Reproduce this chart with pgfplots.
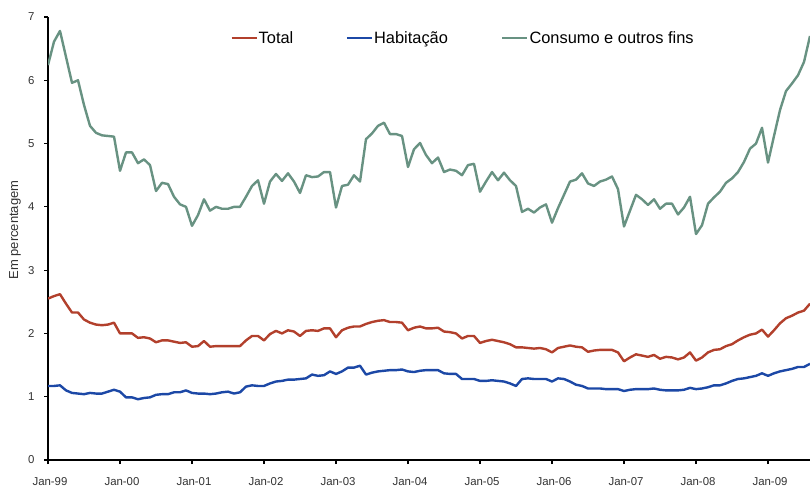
\documentclass[border=0pt]{standalone}
\usepackage{fontspec}
\setmainfont{Liberation Sans}
\usepackage{pgfplots}
\pgfplotsset{compat=1.18}
\usepackage{pgfplotstable}

\definecolor{cTotal}{RGB}{178,64,44}
\definecolor{cHab}{RGB}{28,72,166}
\definecolor{cCons}{RGB}{104,146,130}
\definecolor{ticktxt}{RGB}{50,50,50}

% Monthly rates, Jan-99 (m=0) to Aug-09 (m=127)
\pgfplotstableread{
m total hab cons
0 2.55 1.17 6.24
1 2.59 1.17 6.61
2 2.62 1.18 6.78
3 2.47 1.10 6.37
4 2.33 1.06 5.96
5 2.33 1.05 6.00
6 2.22 1.04 5.61
7 2.17 1.06 5.28
8 2.14 1.05 5.17
9 2.13 1.05 5.13
10 2.14 1.08 5.12
11 2.17 1.11 5.11
12 2.00 1.08 4.57
13 2.00 0.99 4.86
14 2.00 0.99 4.86
15 1.93 0.96 4.69
16 1.94 0.98 4.75
17 1.92 0.99 4.66
18 1.86 1.03 4.25
19 1.89 1.04 4.38
20 1.89 1.04 4.36
21 1.87 1.07 4.16
22 1.85 1.07 4.04
23 1.86 1.10 4.00
24 1.79 1.06 3.70
25 1.80 1.05 3.87
26 1.88 1.05 4.12
27 1.79 1.04 3.94
28 1.80 1.05 4.00
29 1.80 1.07 3.97
30 1.80 1.08 3.97
31 1.80 1.05 4.00
32 1.80 1.07 4.00
33 1.89 1.16 4.16
34 1.96 1.18 4.33
35 1.96 1.17 4.42
36 1.89 1.17 4.05
37 1.99 1.21 4.40
38 2.04 1.24 4.52
39 2.00 1.25 4.41
40 2.05 1.27 4.53
41 2.03 1.27 4.40
42 1.96 1.28 4.22
43 2.04 1.29 4.50
44 2.05 1.35 4.47
45 2.04 1.33 4.48
46 2.08 1.34 4.55
47 2.08 1.40 4.55
48 1.94 1.36 3.99
49 2.05 1.40 4.33
50 2.09 1.46 4.35
51 2.11 1.46 4.50
52 2.11 1.49 4.40
53 2.15 1.35 5.07
54 2.18 1.38 5.16
55 2.20 1.40 5.28
56 2.21 1.41 5.33
57 2.18 1.42 5.15
58 2.18 1.42 5.15
59 2.17 1.43 5.12
60 2.05 1.40 4.63
61 2.09 1.39 4.91
62 2.11 1.41 5.01
63 2.08 1.42 4.82
64 2.08 1.42 4.69
65 2.09 1.42 4.78
66 2.03 1.37 4.55
67 2.02 1.36 4.59
68 2.00 1.36 4.57
69 1.92 1.28 4.50
70 1.96 1.28 4.66
71 1.96 1.28 4.68
72 1.85 1.25 4.24
73 1.88 1.25 4.40
74 1.90 1.26 4.55
75 1.88 1.25 4.42
76 1.86 1.24 4.54
77 1.83 1.21 4.42
78 1.78 1.17 4.33
79 1.78 1.28 3.92
80 1.77 1.29 3.97
81 1.76 1.28 3.91
82 1.77 1.28 3.99
83 1.75 1.28 4.04
84 1.70 1.24 3.75
85 1.77 1.29 3.98
86 1.79 1.28 4.19
87 1.81 1.24 4.40
88 1.79 1.19 4.43
89 1.78 1.17 4.53
90 1.71 1.13 4.37
91 1.73 1.13 4.33
92 1.74 1.13 4.40
93 1.74 1.12 4.43
94 1.74 1.12 4.48
95 1.70 1.12 4.28
96 1.56 1.09 3.69
97 1.62 1.11 3.94
98 1.67 1.12 4.19
99 1.65 1.12 4.12
100 1.63 1.12 4.03
101 1.66 1.13 4.12
102 1.60 1.11 3.97
103 1.63 1.10 4.05
104 1.62 1.10 4.05
105 1.59 1.10 3.88
106 1.62 1.11 3.99
107 1.70 1.14 4.16
108 1.57 1.12 3.57
109 1.62 1.13 3.71
110 1.70 1.15 4.05
111 1.74 1.18 4.15
112 1.75 1.18 4.24
113 1.80 1.21 4.38
114 1.83 1.25 4.45
115 1.89 1.28 4.55
116 1.94 1.29 4.71
117 1.98 1.31 4.92
118 2.00 1.33 5.00
119 2.06 1.37 5.25
120 1.95 1.33 4.70
121 2.05 1.37 5.12
122 2.16 1.40 5.53
123 2.24 1.42 5.83
124 2.28 1.44 5.95
125 2.33 1.47 6.08
126 2.36 1.47 6.29
127 2.47 1.52 6.70
}\ratedata

\begin{document}
\begin{tikzpicture}[x=1pt,y=1pt]
\useasboundingbox (0,0) rectangle (810,493);
\begin{axis}[
  at={(48pt,33pt)}, anchor=south west,
  scale only axis, width=762pt, height=443pt,
  xmin=0, xmax=127, ymin=0, ymax=7,
  axis lines*=left,
  axis line style={-, line width=1.6pt, black},
  tick align=outside,
  major tick length=4pt,
  tick style={black, line width=1.2pt},
  xtick={0,12,...,120},
  xticklabels={Jan-99,Jan-00,Jan-01,Jan-02,Jan-03,Jan-04,Jan-05,Jan-06,Jan-07,Jan-08,Jan-09},
  ytick={0,1,...,7},
  /pgf/number format/assume math mode=true,
  tick label style={font=\fontsize{11.4}{13}\selectfont, text=ticktxt},
  xticklabel style={yshift=-10pt, xshift=2pt},
  yticklabel style={xshift=-6pt},
  legend columns=3,
  legend style={draw=none, fill=none, at={(axis description cs:0.239,0.9526)}, anchor=west,
    font=\fontsize{16.4}{18}\selectfont, inner sep=0pt, column sep=0pt,
    nodes={inner xsep=1pt, inner ysep=0pt}},
  legend image code/.code={\draw[#1] (0pt,0pt) -- (25pt,0pt);},
  every axis plot/.append style={line width=2.4pt, line join=round, no markers},
]
\addplot[cTotal] table[x=m, y=total] {\ratedata};
\addlegendentry{\makebox[86pt][l]{Total}}
\addplot[cHab] table[x=m, y=hab] {\ratedata};
\addlegendentry{\makebox[126pt][l]{Habitação}}
\addplot[cCons] table[x=m, y=cons] {\ratedata};
\addlegendentry{Consumo e outros fins}
\end{axis}
\node[rotate=90, font=\fontsize{13}{15}\selectfont, text=ticktxt] at (15,263) {Em percentagem};
\end{tikzpicture}
\end{document}
